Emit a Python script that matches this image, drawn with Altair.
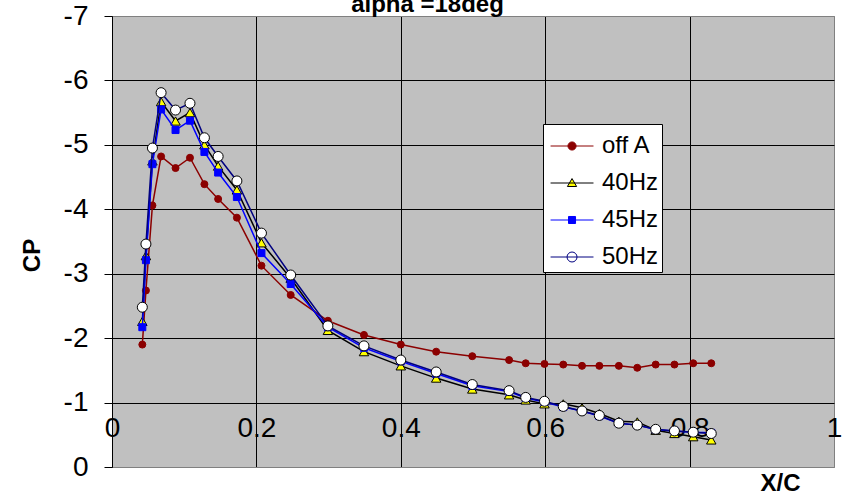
import altair as alt
import pandas as pd

# ---- data ----
xc = [0.042, 0.047, 0.056, 0.068, 0.088, 0.108, 0.128, 0.147, 0.173, 0.207,
      0.2475, 0.299, 0.349, 0.400, 0.449, 0.499, 0.550, 0.573, 0.599, 0.625,
      0.651, 0.675, 0.702, 0.7275, 0.753, 0.779, 0.805, 0.830]

cp_offA = [-1.90, -2.74, -4.06, -4.82, -4.64, -4.80, -4.39, -4.16, -3.87, -3.125,
           -2.67, -2.27, -2.05, -1.90, -1.79, -1.72, -1.66, -1.61, -1.60, -1.59,
           -1.57, -1.57, -1.57, -1.54, -1.59, -1.59, -1.61, -1.61]
cp_40 = [-2.26, -3.28, -4.75, -5.67, -5.37, -5.50, -5.00, -4.67, -4.30, -3.48,
         -2.93, -2.12, -1.79, -1.57, -1.38, -1.21, -1.12, -1.04, -0.98, -0.98,
         -0.92, -0.83, -0.71, -0.70, -0.57, -0.52, -0.47, -0.42]
cp_45 = [-2.17, -3.21, -4.70, -5.55, -5.23, -5.375, -4.89, -4.57, -4.19, -3.32,
         -2.84, -2.17, -1.85, -1.64, -1.45, -1.26, -1.17, -1.07, -1.01, -0.93,
         -0.87, -0.79, -0.68, -0.65, -0.58, -0.56, -0.54, -0.53]
cp_50 = [-2.48, -3.46, -4.95, -5.81, -5.54, -5.645, -5.11, -4.82, -4.44, -3.63,
         -2.98, -2.19, -1.88, -1.66, -1.475, -1.28, -1.185, -1.08, -1.02, -0.94,
         -0.87, -0.80, -0.68, -0.65, -0.585, -0.56, -0.54, -0.52]

series = ["off A", "40Hz", "45Hz", "50Hz"]
values = [cp_offA, cp_40, cp_45, cp_50]

x_ticks = [0, 0.2, 0.4, 0.6, 0.8, 1]
y_ticks = [-7, -6, -5, -4, -3, -2, -1, 0]
title_text = ["alpha =18deg"]

# ---- styles ----
FONT = "Liberation Sans"
line_colors = ["#8B0000", "#000000", "#0000FF", "#000080"]
shapes = ["circle", "triangle-up", "square", "circle"]
fills = ["#8B0000", "#FFFF00", "#0000FF", "#FFFFFF"]
strokes = ["#8B0000", "#000000", "#0000FF", "#000000"]
sizes = [49, 90, 49, 100]

# legend symbols: a line with the marker in the middle (shifted right a bit)
SH = 0.38
def _c(r):
    return (f"M{SH + r},0A{r},{r},0,1,1,{SH - r},0A{r},{r},0,1,1,{SH + r},0Z")
L = f"M{SH - 1.16},0H{SH + 1.16}"
legend_paths = [
    L + _c(0.22),
    L + f"M{SH},-0.24L{SH + 0.25},0.19L{SH - 0.25},0.19Z",
    L + f"M{SH - 0.19},-0.19H{SH + 0.19}V0.19H{SH - 0.19}Z",
    L + _c(0.27),
]
legend_strokes = ["#8B0000", "#000000", "#0000FF", "#000080"]

rows = []
for s, vals in zip(series, values):
    for xv, yv in zip(xc, vals):
        rows.append({"series": s, "x": xv, "cp": yv})
df = pd.DataFrame(rows)

H = 451
W = 722
unit = H / 7.0

x_enc = alt.X(
    "x:Q",
    scale=alt.Scale(domain=[0, 1], nice=False, zero=False),
    axis=alt.Axis(
        values=x_ticks, labelExpr="datum.value + ''", labelFont=FONT, labelFontSize=28,
        labelColor="black", labelFlush=False, labelPadding=12, ticks=False, domain=False,
        offset=-unit, grid=True,
        gridColor={"condition": {"test": "datum.value === 1", "value": "#808080"}, "value": "black"},
        gridOpacity=1, gridWidth=1,
        title="X/C", titleFont=FONT, titleFontSize=24, titleFontWeight="bold",
        titleColor="black", titleX=668, titleY=81, titleAlign="center",
        titleBaseline="middle",
    ),
)
y_enc = alt.Y(
    "cp:Q",
    scale=alt.Scale(domain=[-7, 0], reverse=True, nice=False, zero=False),
    axis=alt.Axis(
        values=y_ticks, labelExpr="datum.value + ''", labelFont=FONT, labelFontSize=28,
        labelColor="black", labelFlush=False, labelPadding=16, tickSize=8,
        tickColor="black", domainColor="black", grid=True,
        gridColor={"condition": {"test": "datum.value === -7 || datum.value === 0",
                                 "value": "#808080"}, "value": "black"},
        gridOpacity=1, gridWidth=1,
        title="CP", titleFont=FONT, titleFontSize=24, titleFontWeight="bold",
        titleColor="black", titleX=-80, titleY=239, titleAlign="center",
        titleBaseline="middle", titleAngle=270,
    ),
)

base = alt.Chart(df)
layers = []
for i, s in enumerate(series):
    sub = base.transform_filter(alt.datum.series == s)
    layers.append(sub.mark_line(color=line_colors[i], strokeWidth=1.5, clip=True)
                  .encode(x=x_enc, y=y_enc))
    layers.append(sub.mark_point(shape=shapes[i], fill=fills[i], stroke=strokes[i],
                                 filled=True, size=sizes[i], strokeWidth=1,
                                 opacity=1, clip=True)
                  .encode(x=x_enc, y=y_enc))

legend_layer = base.mark_point(opacity=0, filled=True, clip=True).encode(
    x=x_enc, y=y_enc,
    shape=alt.Shape("series:N", scale=alt.Scale(domain=series, range=legend_paths),
                    legend=alt.Legend(
                        title=None, orient="none", legendX=431, legendY=108,
                        fillColor="white", strokeColor="black", padding=3,
                        labelFont=FONT, labelFontSize=24, labelColor="black",
                        symbolSize=1369, symbolStrokeWidth=1, symbolOpacity=1,
                        rowPadding=6, labelOffset=18)),
    fill=alt.Fill("series:N", scale=alt.Scale(domain=series, range=fills), legend=None),
    stroke=alt.Stroke("series:N", scale=alt.Scale(domain=series, range=legend_strokes), legend=None),
)

title_layer = alt.Chart(pd.DataFrame({"t": title_text})).mark_text(
    font=FONT, fontSize=24, fontWeight="bold", color="black",
    align="center", baseline="alphabetic", clip=False,
).encode(text="t:N", x=alt.value(315.5), y=alt.value(-4))

chart = alt.layer(*layers, legend_layer, title_layer).properties(
    width=W, height=H,
    autosize=alt.AutoSizeParams(type="none"),
    padding={"left": 112, "top": 16, "right": 18, "bottom": 33},
    background="white",
).configure_view(fill="#C0C0C0", stroke="#808080", strokeWidth=1)

chart.save("out.html", embed_options={"renderer": "svg", "actions": False})
